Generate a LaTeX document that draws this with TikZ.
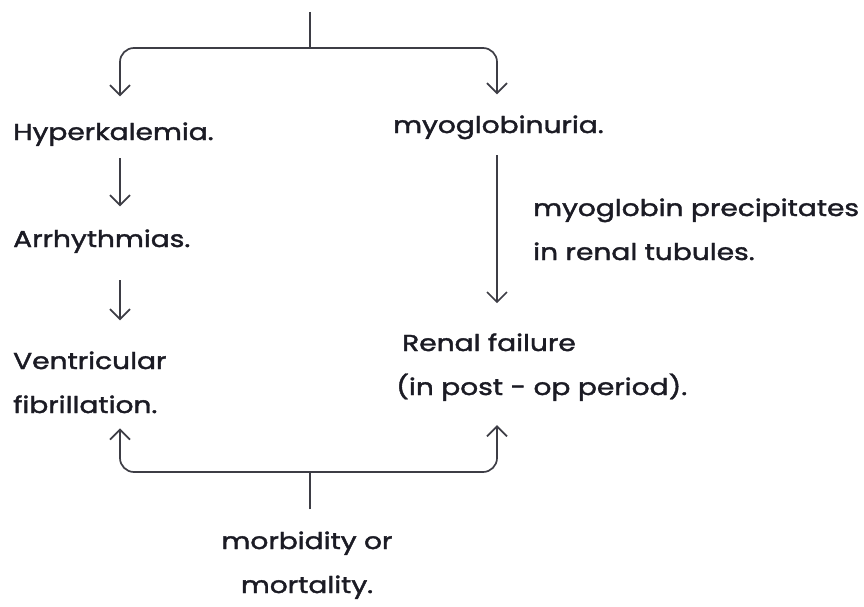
\documentclass[tikz,border=0pt]{standalone}
\usepackage{fontspec}
\setmainfont[FakeStretch=1.22,FakeBold=1.8]{Poppins}
\usetikzlibrary{arrows.meta}
\definecolor{ink}{HTML}{1B1B24}

\begin{document}
\begin{tikzpicture}[x=1pt,y=-1pt,
    txt/.style={anchor=base west, inner sep=0pt, align=left, text=ink,
                font=\fontsize{23}{44}\selectfont},
    link/.style={draw=ink!85, line width=1.7pt},
    flow/.style={link, -{Straight Barb[length=10pt,width=20pt]}}]
    \useasboundingbox (0,0) rectangle (864,607);
    \coordinate (Top)   at (310,12);
    \coordinate (Split) at (310,48);
    \coordinate (Join)  at (310,472);
    \coordinate (LCol)  at (120,0);
    \coordinate (RCol)  at (497,0);

    % left branch (two-line nodes sit on their last baseline)
    \node[txt] (hyper) at (13,140)  {Hyperkalemia.};
    \node[txt] (arrhy) at (13,247)  {Arrhythmias.};
    \node[txt] (vent)  at (13,413)  {Ventricular\\fibrillation.};
    % right branch
    \node[txt] (myo)   at (393,133) {myoglobinuria.};
    \node[txt] (cause) at (533,260) {myoglobin precipitates\\in renal tubules.};
    \node[txt] (renal) at (396,395) {\hspace*{6pt}Renal failure\\(in post - op period).};
    % outcome
    \node[txt, anchor=base, align=center] (mort) at (307,593) {morbidity or\\mortality.};

    \draw[link] (Top) -- (Split);% stem into the fork
    \draw[flow, rounded corners=14pt, shorten >=26pt] (Split) -| (hyper.north -| LCol);
    \draw[flow, rounded corners=14pt, shorten >=21pt] (Split) -| (myo.north -| RCol);

    \draw[flow, shorten <=12pt, shorten >=23pt] (hyper.south -| LCol) -- (arrhy.north -| LCol);
    \draw[flow, shorten <=27pt, shorten >=31pt] (arrhy.south -| LCol) -- (vent.north -| LCol);
    \draw[flow, shorten <=16pt, shorten >=30pt] (myo.south -| RCol) -- (renal.north -| RCol);

    \draw[link, shorten <=22pt] (mort.north -| Join) -- (Join);% stem out of the join
    \draw[flow, rounded corners=14pt, shorten >=15pt] (Join) -| (vent.south -| LCol);
    \draw[flow, rounded corners=14pt, shorten >=24pt] (Join) -| (renal.south -| RCol);
\end{tikzpicture}
\end{document}
